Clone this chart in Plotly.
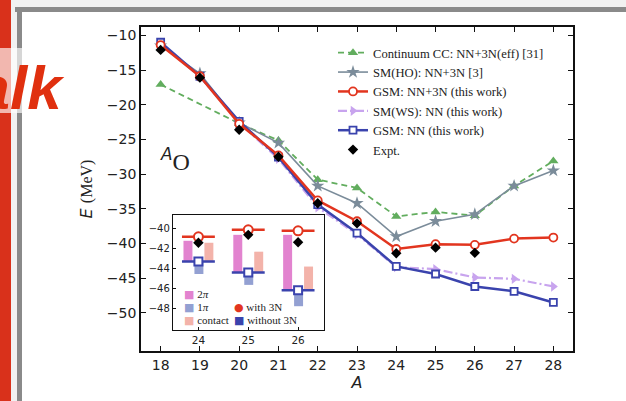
import plotly.graph_objects as go

# ---------------- data ----------------
mass_number = [18, 19, 20, 21, 22, 23, 24, 25, 26, 27, 28]

cc_A = [18, 20, 21, 22, 23, 24, 25, 26, 27, 28]
cc_nn3n_eff = [-17.1, -22.7, -25.15, -30.8, -32.0, -36.1, -35.45, -36.0, -31.7, -28.1]

sm_ho_nn3n = [-11.5, -15.5, -22.6, -25.5, -31.7, -34.2, -39.0, -36.8, -35.8, -31.7, -29.5]
gsm_nn3n = [-11.4, -15.9, -22.75, -27.3, -33.8, -36.8, -40.8, -40.1, -40.2, -39.3, -39.15]
sm_ws_nn = [-11.2, -15.95, -22.6, -27.8, -34.8, -38.7, -43.4, -43.7, -44.9, -45.1, -46.2]
gsm_nn = [-11.0, -15.9, -22.4, -27.55, -34.4, -38.5, -43.3, -44.4, -46.2, -46.9, -48.5]

expt_A = [18, 19, 20, 21, 22, 23, 24, 25, 26]
expt = [-12.1, -16.1, -23.6, -27.5, -34.2, -37.1, -41.4, -40.6, -41.35]

# inset: 3N-force contributions on top of the NN-only GSM energies
inset_A = [24, 25, 26]
inset_nn = [-43.3, -44.4, -46.2]
inset_nn3n = [-40.8, -40.1, -40.2]
inset_expt = [-41.4, -40.6, -41.35]
contrib_2pi = [2.1, 3.8, 5.6]
contrib_1pi = [-1.25, -1.25, -1.6]
contrib_contact = [1.9, 2.1, 2.4]

main_yticks = [-10, -15, -20, -25, -30, -35, -40, -45, -50]
inset_yticks = [-40, -42, -44, -46, -48]

# ---------------- style ----------------
GREEN = "#62ad5e"
SLATE = "#7b8c9a"
RED = "#e2351f"
LAVENDER = "#c8a4ee"
BLUE = "#3a43ad"
PINK = "#e283cf"
ONEPI = "#93a0d2"
SALMON = "#f3b3aa"

W, H = 626, 401
ML, MT, PW, PH = 141, 27, 432, 324
MR = W - ML - PW
MB = H - MT - PH


def fx(px):
    return (px - ML) / PW


def fy(py):
    return (MT + PH - py) / PH


SANS = "DejaVu Sans"
SERIF = "Liberation Serif, Times New Roman, serif"

fig = go.Figure()

# ---------------- main panel ----------------
fig.add_trace(go.Scatter(
    x=cc_A, y=cc_nn3n_eff, mode="lines+markers", name="Continuum CC: NN+3N(eff) [31]",
    line=dict(color=GREEN, width=1.8, dash="6px,4px"),
    marker=dict(symbol="triangle-up", size=9, color=GREEN), legendrank=1))
fig.add_trace(go.Scatter(
    x=mass_number, y=sm_ho_nn3n, mode="lines+markers", name="SM(HO): NN+3N [3]",
    line=dict(color=SLATE, width=1.6),
    marker=dict(symbol="star", size=10, color=SLATE), legendrank=2))
fig.add_trace(go.Scatter(
    x=mass_number, y=sm_ws_nn, mode="lines+markers", name="SM(WS): NN (this work)",
    line=dict(color=LAVENDER, width=2.2, dash="9px,3px,2px,3px"),
    marker=dict(symbol="triangle-right", size=9, color=LAVENDER), legendrank=4))
fig.add_trace(go.Scatter(
    x=mass_number, y=gsm_nn, mode="lines+markers", name="GSM: NN (this work)",
    line=dict(color=BLUE, width=2.5),
    marker=dict(symbol="square", size=7, color="white", line=dict(color=BLUE, width=1.8)),
    legendrank=5))
fig.add_trace(go.Scatter(
    x=mass_number, y=gsm_nn3n, mode="lines+markers", name="GSM: NN+3N (this work)",
    line=dict(color=RED, width=2.5),
    marker=dict(symbol="circle", size=8, color="white", line=dict(color=RED, width=1.8)),
    legendrank=3))
fig.add_trace(go.Scatter(
    x=expt_A, y=expt, mode="markers", name="Expt.",
    marker=dict(symbol="diamond", size=8, color="black"), legendrank=6))

# ---------------- inset panel ----------------
for vals, off, col in [(contrib_2pi, -0.30, PINK),
                       (contrib_1pi, -0.08, ONEPI),
                       (contrib_contact, 0.12, SALMON)]:
    fig.add_trace(go.Bar(
        x=inset_A, y=vals, base=inset_nn, offset=off, width=0.18,
        marker=dict(color=col, line=dict(width=0)),
        xaxis="x2", yaxis="y2", showlegend=False))

fig.add_trace(go.Scatter(
    x=inset_A, y=inset_nn, mode="markers", xaxis="x2", yaxis="y2", showlegend=False,
    marker=dict(symbol="square", size=8, color="white", line=dict(color=BLUE, width=2)),
    error_x=dict(type="constant", value=0.33, width=0, thickness=2.5, color=BLUE)))
fig.add_trace(go.Scatter(
    x=inset_A, y=inset_nn3n, mode="markers", xaxis="x2", yaxis="y2", showlegend=False,
    marker=dict(symbol="circle", size=9, color="white", line=dict(color=RED, width=2)),
    error_x=dict(type="constant", value=0.33, width=0, thickness=2.5, color=RED)))
fig.add_trace(go.Scatter(
    x=inset_A, y=inset_expt, mode="markers", xaxis="x2", yaxis="y2", showlegend=False,
    marker=dict(symbol="diamond", size=8, color="black")))

axis_common = dict(showline=True, linecolor="#111", showgrid=False, zeroline=False,
                   ticks="inside", tickcolor="#111")

fig.update_layout(
    width=W, height=H,
    margin=dict(l=ML, r=MR, t=MT, b=MB),
    paper_bgcolor="white", plot_bgcolor="white",
    barmode="overlay",
    xaxis=dict(axis_common, range=[17.5, 28.5], tickvals=mass_number, mirror="ticks",
               linewidth=1.6, ticklen=5, tickwidth=1.2,
               tickfont=dict(family=SANS, size=14, color="#222"),
               title=dict(text="<i>A</i>", font=dict(family=SANS, size=16, color="#222"),
                          standoff=1)),
    yaxis=dict(axis_common, range=[-55.5, -8.8], tickvals=main_yticks, mirror="ticks",
               linewidth=1.6, ticklen=5, tickwidth=1.2,
               tickfont=dict(family=SANS, size=14, color="#222"),
               title=dict(text='<i>E</i> <span style="font-family:Liberation Serif">(MeV)</span>',
                          font=dict(family=SANS, size=16, color="#222"), standoff=10)),
    xaxis2=dict(axis_common, domain=[fx(173), fx(324)], anchor="y2", range=[23.49, 26.52],
                tickvals=inset_A, mirror=True, linewidth=1.3, ticklen=3,
                tickfont=dict(family=SANS, size=10.5, color="#222")),
    yaxis2=dict(axis_common, domain=[fy(330), fy(215)], anchor="x2", range=[-50.2, -38.6],
                tickvals=inset_yticks, mirror=True, linewidth=1.3, ticklen=3,
                tickfont=dict(family=SANS, size=10, color="#222")),
    legend=dict(x=fx(333), y=fy(38), xanchor="left", yanchor="top",
                bgcolor="rgba(0,0,0,0)", itemwidth=30, tracegroupgap=0,
                font=dict(family=SERIF, size=12.6, color="#222")),
)

# ---------------- slide framing ----------------
shapes = [
    dict(type="rect", x0=fx(0), x1=fx(W), y0=fy(0), y1=fy(8), fillcolor="#f1f1f1", line_width=0),
    dict(type="rect", x0=fx(10), x1=fx(18), y0=fy(0), y1=fy(H), fillcolor="#f1f1f1", line_width=0),
    dict(type="rect", x0=fx(15), x1=fx(W), y0=fy(7), y1=fy(12), fillcolor="#8a8a8a", line_width=0),
    dict(type="rect", x0=fx(17), x1=fx(22), y0=fy(7), y1=fy(H), fillcolor="#8a8a8a", line_width=0),
    dict(type="rect", x0=fx(0), x1=fx(11), y0=fy(0), y1=fy(H), fillcolor="#d9311b", line_width=0),
    dict(type="rect", x0=fx(0), x1=fx(22), y0=fy(48), y1=fy(113), fillcolor="white",
         opacity=0.65, line_width=0),
]
for s in shapes:
    s.update(xref="paper", yref="paper", layer="above")
fig.update_layout(shapes=shapes)

annotations = [
    dict(text="<b><i>Talk</i></b>", x=fx(67), y=fy(88), xanchor="right", yanchor="middle",
         font=dict(family="Liberation Sans", size=62, color="#e0300f")),
    dict(text='<sup><span style="font-family:DejaVu Sans"><i>A</i></span></sup>O',
         x=fx(158), y=fy(159), xanchor="left", yanchor="middle",
         font=dict(family=SERIF, size=24, color="#222")),
    # inset legend
    dict(text=f'<span style="color:{PINK};font-family:DejaVu Sans">■</span> 2<i>π</i>',
         x=fx(182), y=fy(294), xanchor="left", yanchor="middle",
         font=dict(family=SERIF, size=11, color="#222")),
    dict(text=f'<span style="color:{ONEPI};font-family:DejaVu Sans">■</span> 1<i>π</i>',
         x=fx(182), y=fy(307), xanchor="left", yanchor="middle",
         font=dict(family=SERIF, size=11, color="#222")),
    dict(text=f'<span style="color:{SALMON};font-family:DejaVu Sans">■</span> contact',
         x=fx(182), y=fy(320), xanchor="left", yanchor="middle",
         font=dict(family=SERIF, size=11, color="#222")),
    dict(text=f'<span style="color:{RED};font-family:DejaVu Sans">●</span> with 3N',
         x=fx(232), y=fy(307), xanchor="left", yanchor="middle",
         font=dict(family=SERIF, size=11, color="#222")),
    dict(text=f'<span style="color:{BLUE};font-family:DejaVu Sans">■</span> without 3N',
         x=fx(232), y=fy(320), xanchor="left", yanchor="middle",
         font=dict(family=SERIF, size=11, color="#222")),
]
for a in annotations:
    a.update(xref="paper", yref="paper", showarrow=False)
fig.update_layout(annotations=annotations)

fig.write_html("out.html", config={"displayModeBar": False})
